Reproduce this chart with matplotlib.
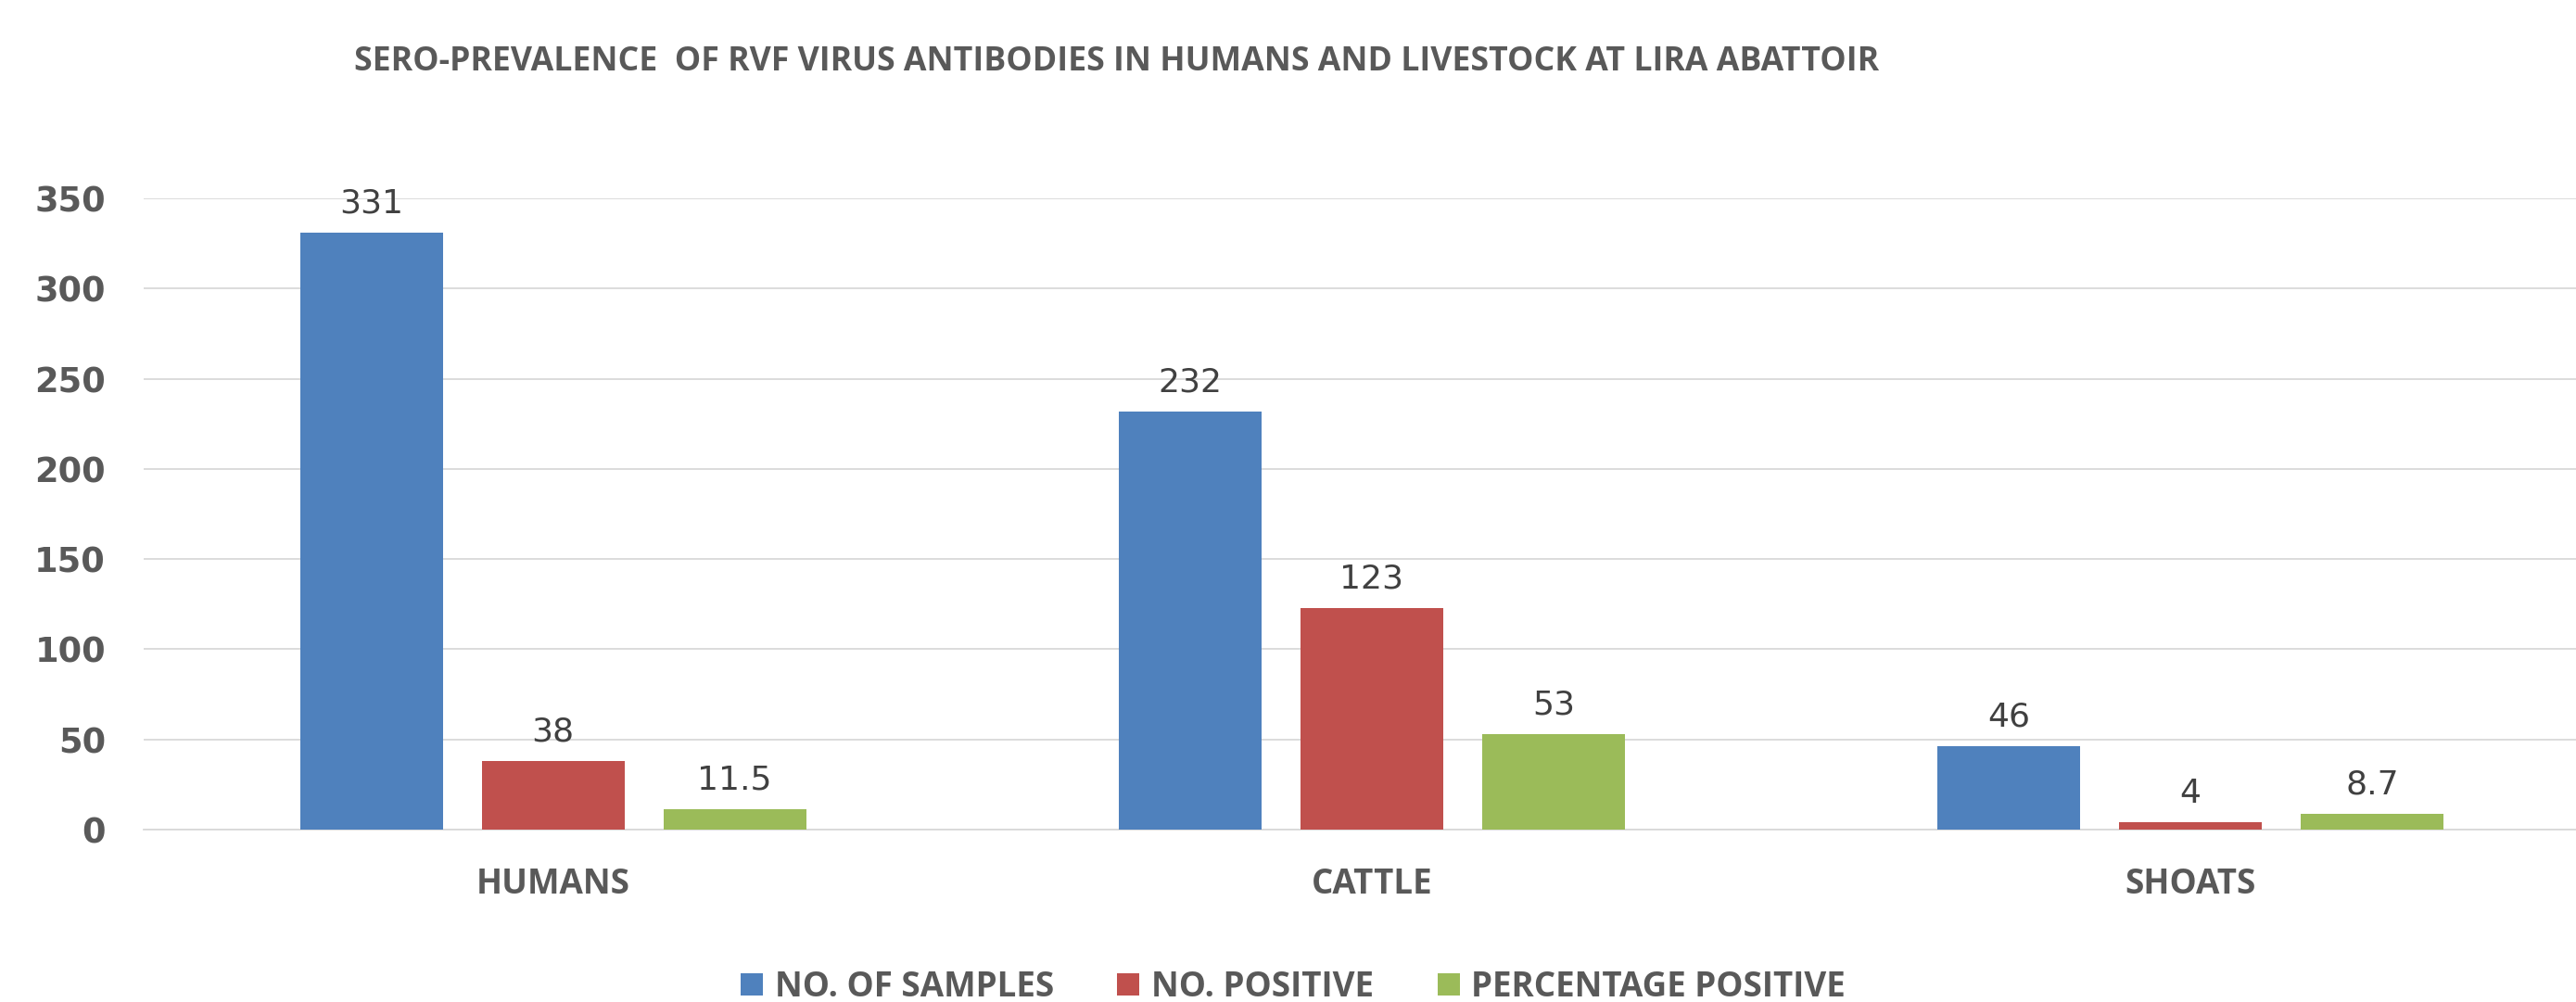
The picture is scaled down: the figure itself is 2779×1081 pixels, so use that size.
import numpy as np
import matplotlib
matplotlib.use("Agg")
import matplotlib.pyplot as plt

# Data
categories = ["HUMANS", "CATTLE", "SHOATS"]
series_names = ["NO. OF SAMPLES", "NO. POSITIVE", "PERCENTAGE POSITIVE"]
no_samples = [331, 232, 46]
no_positive = [38, 123, 4]
pct_positive = [11.5, 53, 8.7]
yticks = [0, 50, 100, 150, 200, 250, 300, 350]

colors = ["#4F81BD", "#C0504D", "#9BBB59"]
grey = "#595959"

fig = plt.figure(figsize=(27.79, 10.81), dpi=100)
ax = fig.add_axes([155 / 2779, 186 / 1081, 2624 / 2779, 681 / 1081])

x = np.arange(len(categories))
width = 0.1744
step = 0.222

for i, (vals, name) in enumerate(zip([no_samples, no_positive, pct_positive], series_names)):
    bars = ax.bar(x + (i - 1) * step, vals, width, color=colors[i], label=name, zorder=3)
    ax.bar_label(bars, labels=[f"{v:g}" for v in vals], padding=10.5,
                 fontsize=26, color="#404040", family="DejaVu Sans")

ax.set_xlim(-0.5, (2779 - 597) / 883)
ax.set_ylim(0, 350)
ax.set_yticks(yticks)
ax.set_xticks(x)
ax.set_xticklabels(categories, fontsize=26.5, fontweight="bold", color=grey, family="Open Sans")
for lbl in ax.get_yticklabels():
    lbl.set_fontsize(26.5)
    lbl.set_fontweight("bold")
    lbl.set_color(grey)
    lbl.set_family("DejaVu Sans")
ax.tick_params(axis="y", length=0, pad=29.5)
ax.tick_params(axis="x", length=0, pad=29)

ax.grid(axis="y", color="#d9d9d9", linewidth=1.3, zorder=0)
for side in ["top", "right", "left"]:
    ax.spines[side].set_visible(False)
ax.spines["bottom"].set_color("#d9d9d9")
ax.spines["bottom"].set_linewidth(1.3)

fig.text(1205 / 2779, 1 - 67 / 1081,
         "SERO-PREVALENCE  OF RVF VIRUS ANTIBODIES IN HUMANS AND LIVESTOCK AT LIRA ABATTOIR",
         ha="center", va="center", fontsize=25.7, fontweight="bold", color=grey, family="Open Sans")

handles, labels = ax.get_legend_handles_labels()
fig.legend(handles, labels, loc="center", bbox_to_anchor=(1395 / 2779, 16 / 1081),
           ncol=3, frameon=False, handlelength=0.65, handleheight=0.65,
           handletextpad=0.35, columnspacing=1.86, borderpad=0,
           prop={"family": "Open Sans", "weight": "bold", "size": 26.5}, labelcolor=grey)

fig.savefig("out.png", dpi=100, facecolor="white")
